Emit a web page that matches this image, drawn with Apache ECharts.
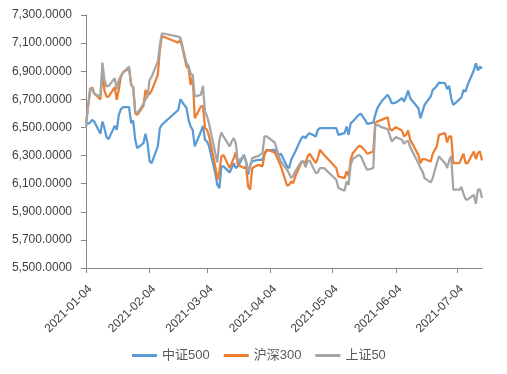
<!DOCTYPE html>
<html>
<head>
<meta charset="utf-8">
<script src="https://cdn.jsdelivr.net/npm/echarts@6/dist/echarts.min.js"></script>
<style>html,body{margin:0;padding:0;background:#fff}#c{width:507px;height:374px}</style>
</head>
<body>
<div id="c"></div>
<script>
const dates = ['2021-01-04','2021-01-05','2021-01-06','2021-01-07','2021-01-08','2021-01-11','2021-01-12','2021-01-13','2021-01-14','2021-01-15','2021-01-18','2021-01-19','2021-01-20','2021-01-21','2021-01-22','2021-01-25','2021-01-26','2021-01-27','2021-01-28','2021-01-29',
'2021-02-01','2021-02-02','2021-02-03','2021-02-04','2021-02-05','2021-02-08','2021-02-09','2021-02-10','2021-02-18','2021-02-19','2021-02-22','2021-02-23','2021-02-24','2021-02-25','2021-02-26',
'2021-03-01','2021-03-02','2021-03-03','2021-03-04','2021-03-05','2021-03-08','2021-03-09','2021-03-10','2021-03-11','2021-03-12','2021-03-15','2021-03-16','2021-03-17','2021-03-18','2021-03-19','2021-03-22','2021-03-23','2021-03-24','2021-03-25','2021-03-26','2021-03-29','2021-03-31',
'2021-04-01','2021-04-02','2021-04-06','2021-04-08','2021-04-09','2021-04-12','2021-04-13','2021-04-14','2021-04-15','2021-04-16','2021-04-19','2021-04-20','2021-04-21','2021-04-22','2021-04-23','2021-04-26','2021-04-27','2021-04-28','2021-04-30',
'2021-05-06','2021-05-07','2021-05-10','2021-05-11','2021-05-12','2021-05-13','2021-05-14','2021-05-17','2021-05-18','2021-05-20','2021-05-21','2021-05-24','2021-05-25','2021-05-26','2021-05-28','2021-05-31',
'2021-06-01','2021-06-02','2021-06-04','2021-06-07','2021-06-08','2021-06-09','2021-06-10','2021-06-11','2021-06-15','2021-06-16','2021-06-17','2021-06-18','2021-06-21','2021-06-22','2021-06-23','2021-06-24','2021-06-25','2021-06-28','2021-06-29','2021-06-30',
'2021-07-01','2021-07-02','2021-07-05','2021-07-06','2021-07-07','2021-07-08','2021-07-09','2021-07-12','2021-07-13','2021-07-14','2021-07-15','2021-07-16'];

const zz500 = [6530,6526,6535,6554,6542,6455,6542,6495,6431,6417,6512,6483,6590,6630,6644,6644,6530,6549,6412,6353,
6388,6455,6388,6258,6246,6365,6495,6519,6625,6700,6637,6554,6507,6483,6365,
6471,6511,6412,6400,6365,6175,6092,6068,6223,6223,6180,6211,6246,6211,6223,6305,6258,6164,6234,6258,6270,6270,
6317,6336,6341,6305,6313,6223,6211,6270,6298,6329,6424,6436,6424,6447,6459,6436,6483,6495,6495,
6495,6447,6459,6507,6447,6530,6542,6590,6597,6554,6526,6535,6590,6637,6684,6732,
6708,6672,6677,6708,6684,6720,6762,6708,6637,6566,6613,6661,6720,6767,6779,6796,6819,6815,6772,6796,
6708,6661,6700,6715,6767,6755,6803,6905,6957,6905,6933,6921];

const hs300 = [6530,6649,6755,6786,6744,6700,6890,6762,6720,6720,6786,6696,6772,6862,6890,6921,6803,6786,6601,6590,
6654,6767,6732,6739,6762,6874,7051,7151,7103,7127,6933,6921,6803,6862,6566,
6649,6654,6495,6483,6436,6223,6128,6187,6294,6305,6211,6246,6282,6322,6234,6211,6223,6080,6057,6211,6234,6223,
6305,6341,6322,6258,6223,6085,6092,6116,6104,6152,6251,6258,6246,6294,6313,6246,6282,6341,6305,
6211,6152,6140,6187,6152,6270,6317,6369,6365,6336,6313,6329,6535,6542,6554,6573,
6495,6478,6502,6478,6436,6447,6478,6412,6305,6246,6275,6275,6258,6313,6341,6365,6447,6459,6393,6436,
6436,6246,6246,6282,6313,6246,6246,6329,6275,6317,6329,6265];

const sz50 = [6495,6649,6779,6772,6739,6720,6961,6838,6791,6796,6850,6772,6838,6867,6890,6933,6803,6786,6613,6601,
6668,6701,6720,6838,6862,6968,7087,7170,7146,7139,6957,6938,6881,6874,6720,
6732,6796,6613,6578,6526,6317,6251,6412,6464,6436,6365,6400,6424,6388,6258,6294,6258,6187,6223,6282,6298,6317,
6436,6436,6393,6294,6258,6199,6170,6140,6156,6187,6258,6258,6218,6258,6265,6175,6180,6211,6211,
6128,6069,6050,6116,6092,6234,6275,6305,6294,6227,6199,6211,6511,6519,6502,6488,
6447,6400,6431,6412,6383,6400,6405,6360,6246,6211,6187,6140,6109,6140,6194,6246,6294,6246,6211,6265,
6298,6057,6057,6076,6028,5990,5986,6021,5957,6057,6061,5998];

const xTickLabels = ['2021-01-04','2021-02-04','2021-03-04','2021-04-04','2021-05-04','2021-06-04','2021-07-04'];
const xStart = '2021-01-04';
const xEnd = '2021-07-16';
const seriesNames = ['中证500','沪深300','上证50'];
const colors = ['#5B9BD5','#ED7D31','#A5A5A5'];

function ts(s){ const p = s.split('-').map(Number); return new Date(p[0], p[1]-1, p[2]).getTime(); }
function pad(n){ return (n<10?'0':'')+n; }
function fmtDate(v){ const d = new Date(v); return d.getFullYear()+'-'+pad(d.getMonth()+1)+'-'+pad(d.getDate()); }
function fmtNum(v){ const s = Number(v).toFixed(4); const parts = s.split('.'); return parts[0].replace(/\B(?=(\d{3})+(?!\d))/g, ',') + '.' + parts[1]; }

const tickTs = xTickLabels.map(ts);
const FONT = "'Liberation Sans','Noto Sans CJK SC',sans-serif";

function mk(vals){ return dates.map((d,i)=>[ts(d), vals[i]]); }

const chart = echarts.init(document.getElementById('c'), null, {renderer:'canvas'});
chart.setOption({
  animation: false,
  textStyle: {fontFamily: FONT},
  color: colors,
  grid: {left: 86, right: 25, top: 15, bottom: 106, containLabel: false, outerBoundsMode: 'none'},
  legend: {
    data: seriesNames, left: 127, top: 344,
    icon: 'rect', itemWidth: 25, itemHeight: 3, itemGap: 14,
    textStyle: {color: '#595959', fontSize: 13, fontFamily: FONT}
  },
  xAxis: {
    type: 'value', min: ts(xStart), max: ts(xEnd), scale: true,
    axisLine: {show: true, lineStyle: {color: '#868686', width: 1}},
    axisTick: {show: true, length: 5, lineStyle: {color: '#868686'}, customValues: tickTs},
    axisLabel: {rotate: 45, margin: 15, verticalAlign: 'top', color: '#404040', fontSize: 12, fontFamily: FONT,
      customValues: tickTs, formatter: v => fmtDate(v), hideOverlap: false},
    splitLine: {show: false}, minorTick: {show: false}
  },
  yAxis: {
    type: 'value', min: 5500, max: 7300, interval: 200,
    axisLine: {show: true, lineStyle: {color: '#868686', width: 1}},
    axisTick: {show: true, length: 5, lineStyle: {color: '#868686'}},
    axisLabel: {color: '#404040', fontSize: 12, fontFamily: FONT, margin: 14, formatter: v => fmtNum(v)},
    splitLine: {show: false}
  },
  series: [
    {name: seriesNames[0], type: 'line', data: mk(zz500), showSymbol: false, lineStyle: {width: 2.25, color: colors[0]}, itemStyle:{color:colors[0]}},
    {name: seriesNames[1], type: 'line', data: mk(hs300), showSymbol: false, lineStyle: {width: 2.25, color: colors[1]}, itemStyle:{color:colors[1]}},
    {name: seriesNames[2], type: 'line', data: mk(sz50), showSymbol: false, lineStyle: {width: 2.25, color: colors[2]}, itemStyle:{color:colors[2]}}
  ]
});
</script>
</body>
</html>
